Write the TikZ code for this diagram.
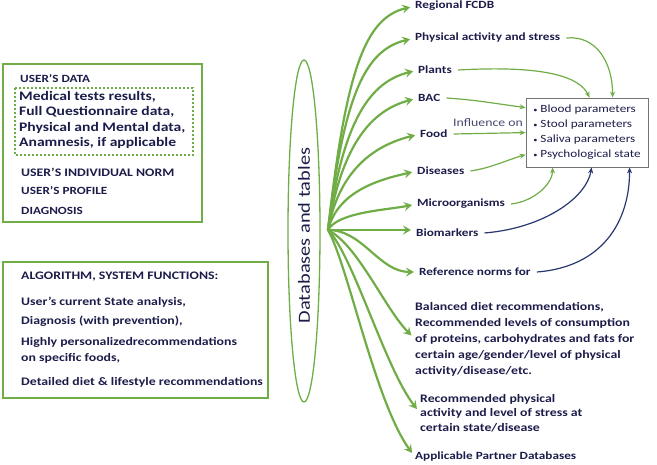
\documentclass[tikz,border=0pt]{standalone}
\usepackage{fontspec}
\setmainfont{Carlito}[FakeStretch=1.2]
\usetikzlibrary{arrows.meta,shapes.geometric,calc}
\definecolor{gr}{RGB}{112,173,71}
\definecolor{navy}{RGB}{28,28,75}
\definecolor{bl}{RGB}{40,55,110}
\begin{document}
\begin{tikzpicture}[x=1pt,y=-1pt,
  lbl/.style={anchor=west,inner sep=0pt,font=\bfseries\fontsize{11}{13}\selectfont,text=navy},
  ltxt/.style={anchor=west,inner sep=0pt,font=\bfseries\fontsize{11}{13}\selectfont,text=navy},
  fan/.style={draw=gr,line width=2.2pt,-{Stealth[length=8pt,width=9pt,inset=3pt]},shorten >=5pt},
  thin/.style={draw=gr,line width=1.2pt,-{Stealth[length=6pt,width=5pt]}},
  thinb/.style={draw=bl,line width=1.2pt,-{Stealth[length=6pt,width=5pt]}},
  gbox/.style={draw=gr,line width=2pt}]
\useasboundingbox (0,0) rectangle (657,465);

% left boxes
\draw[gbox] (3,64) rectangle (202,222);
\draw[draw=gr,line width=1.3pt,dash pattern=on 2pt off 2pt] (15,88) rectangle (193,155);
\node[ltxt] (ud) at (20,79) {USER’S DATA};
\node[ltxt,align=left,font=\bfseries\fontsize{13}{15.5}\selectfont] (med) at (19,120)
  {Medical tests results,\\Full Questionnaire data,\\Physical and Mental data,\\Anamnesis, if applicable};
\node[ltxt,font=\bfseries\fontsize{11.5}{13}\selectfont] (uin) at (21,172) {USER’S INDIVIDUAL NORM};
\node[ltxt] (up) at (21,191) {USER’S PROFILE};
\node[ltxt] (dg) at (21,211) {DIAGNOSIS};

\draw[gbox] (3,262) rectangle (268,398);
\node[ltxt,font=\bfseries\fontsize{11.5}{14}\selectfont] (alg) at (21,277) {ALGORITHM, SYSTEM FUNCTIONS:};
\node[ltxt,font=\bfseries\fontsize{11.5}{14}\selectfont] (ucs) at (21,302) {User’s current State analysis,};
\node[ltxt,font=\bfseries\fontsize{11.5}{14}\selectfont] (dwp) at (21,321) {Diagnosis (with prevention),};
\node[ltxt,align=left,font=\bfseries\fontsize{11.5}{16}\selectfont] (hp) at (21,350) {Highly personalizedrecommendations\\on specific foods,};
\node[ltxt,font=\bfseries\fontsize{11.5}{14}\selectfont] (ddl) at (21,382) {Detailed diet \& lifestyle recommendations};

% databases ellipse
\node[ellipse,draw=gr,line width=1.3pt,rotate=90,minimum width=342pt,minimum height=32pt,inner sep=0pt,
  font=\fontsize{17}{20}\selectfont,text=navy] (db) at (304,231) {Databases and tables\hspace*{9pt}};
\coordinate (hub) at (328,230);

% right labels
\node[lbl] (rf) at (415,6) {Regional FCDB};
\node[lbl] (pa) at (415,38) {Physical activity and stress};
\node[lbl] (pl) at (418,70) {Plants};
\node[lbl] (bac) at (418,98) {BAC};
\node[lbl] (fd) at (420,134) {Food};
\node[lbl] (ds) at (417,171) {Diseases};
\node[lbl] (mo) at (417,204) {Microorganisms};
\node[lbl] (bm) at (416,233) {Biomarkers};
\node[lbl] (rn) at (419,272) {Reference norms for};
\node[lbl,align=left,font=\bfseries\fontsize{11.5}{16}\selectfont] (bal) at (415,339)
  {Balanced diet recommendations,\\Recommended levels of consumption\\of proteins, carbohydrates and fats for\\certain age/gender/level of physical\\activity/disease/etc.};
\node[lbl,align=left,font=\bfseries\fontsize{11.5}{14.5}\selectfont] (rp) at (420,413)
  {Recommended physical\\activity and level of stress at\\certain state/disease};
\node[lbl] (ap) at (415,457) {Applicable Partner Databases};

% parameter box
\node[draw=black!55,line width=0.8pt,minimum height=69pt,minimum width=122pt,inner sep=0pt,
  align=left,font=\fontsize{11}{15}\selectfont,text=navy] (pb) at (587,132.5)
  {{\scriptsize•} Blood parameters\\{\scriptsize•} Stool parameters\\{\scriptsize•} Saliva parameters\\{\scriptsize•} Psychological state};
\node[anchor=west,inner sep=0pt,font=\fontsize{11.5}{14}\selectfont,text=navy!80] (inf) at (453,123) {Influence on};

% fan arrows
\draw[fan] (hub) .. controls +(18,-160) and +(-50,12) .. (rf.west);
\draw[fan] (hub) .. controls +(16,-135) and +(-50,12) .. (pa.west);
\draw[fan] (hub) .. controls +(15,-110) and +(-48,12) .. (pl.west);
\draw[fan] (hub) .. controls +(14,-88) and +(-45,12) .. (bac.west);
\draw[fan] (hub) .. controls +(12,-65) and +(-40,10) .. (fd.west);
\draw[fan] (hub) .. controls +(10,-40) and +(-35,8) .. (ds.west);
\draw[fan] (hub) .. controls +(10,-18) and +(-30,6) .. (mo.west);
\draw[fan] (hub) -- (hub -| bm.west);
\draw[fan] (hub) .. controls +(35,0) and +(-40,0) .. (rn.west);
\draw[fan] (hub) .. controls +(30,15) and +(-30,-30) .. (bal.west);
\draw[fan] (hub) .. controls +(25,25) and +(-35,-45) .. (rp.west);
\draw[fan] (hub) .. controls +(20,35) and +(-40,-55) .. (ap.west);

% influence arrows
\draw[thin] ([xshift=6pt]pa.east) .. controls +(30,-3) and +(0,-35) .. ([xshift=87pt]pb.north west);
\draw[thin] ([xshift=6pt]pl.east) .. controls +(90,-5) and +(-10,-20) .. ([xshift=64pt]pb.north west);
\draw[thin] ([xshift=6pt]bac.east) .. controls +(30,2) and +(-30,-4) .. ([yshift=-10pt]pb.north west);
\draw[thin] ([xshift=6pt]fd.east) -- ([yshift=-35pt]pb.north west);
\draw[thin] ([xshift=6pt]ds.east) .. controls +(20,-3) and +(-20,6) .. ([yshift=-57pt]pb.north west);
\draw[thin] ([xshift=6pt]mo.east) .. controls +(25,-3) and +(0,15) .. ([xshift=27pt]pb.south west);
\draw[thinb] ([xshift=6pt]bm.east) .. controls +(60,-5) and +(-5,30) .. ([xshift=66pt]pb.south west);
\draw[thinb] ([xshift=6pt]rn.east) .. controls +(65,-5) and +(0,55) .. ([xshift=104pt]pb.south west);
\end{tikzpicture}
\end{document}
